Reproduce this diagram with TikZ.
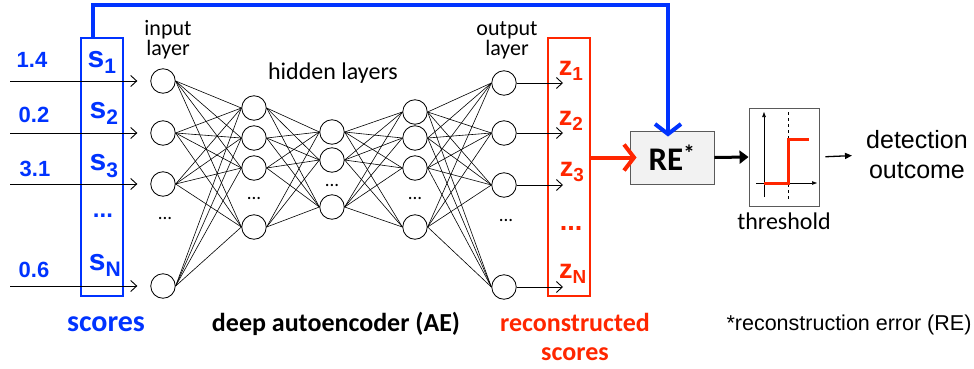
\documentclass[tikz,border=0pt]{standalone}
\usepackage{fontspec}
\setmainfont{Carlito}
\newfontfamily\arialfont{Liberation Sans}
\usetikzlibrary{arrows.meta}
\definecolor{sblue}{RGB}{0,51,255}
\definecolor{zred}{RGB}{255,38,0}
\definecolor{regrey}{RGB}{242,242,242}
\definecolor{hgrey}{RGB}{90,90,90}
\tikzset{
  neuron/.style={circle,draw,inner sep=0pt,minimum size=24.5pt,line width=0.8pt},
  syn/.style={line width=0.6pt},
  feed/.style={line width=0.9pt,-{Straight Barb[length=6pt,width=11pt]}},
  lbl/.style={align=center,inner sep=0pt,font=\fontsize{22}{20}\selectfont},
  boldlbl/.style={align=center,inner sep=0pt,font=\fontsize{26}{29}\selectfont\bfseries},
  arlbl/.style={align=center,inner sep=0pt,font=\arialfont\fontsize{25}{30}\selectfont},
  num/.style={inner sep=0pt,text=sblue,font=\arialfont\fontsize{22}{22}\selectfont\bfseries},
  score/.style={inner sep=0pt,text=sblue,font=\arialfont\fontsize{30}{30}\selectfont\bfseries},
  zscore/.style={inner sep=0pt,text=zred,font=\arialfont\fontsize{27}{27}\selectfont\bfseries},
  vecbox/.style={draw,line width=2pt,minimum width=42pt,minimum height=258pt,inner sep=0pt},
  gap/.style={inner sep=0pt,font=\fontsize{19}{19}\selectfont},
}

\begin{document}
\begin{tikzpicture}[x=1pt,y=-1pt]
\useasboundingbox (0,0) rectangle (974,369);
% input layer
\node[neuron] (in1) at (163,81) {};
\node[neuron] (in2) at (163,133) {};
\node[neuron] (in3) at (163,184) {};
\node[neuron] (in4) at (163,286) {};
\node[gap] (indots) at (165,218) {...};
% hidden layers
\node[neuron] (ha1) at (254,108) {};
\node[neuron] (ha2) at (254,138) {};
\node[neuron] (ha3) at (254,168) {};
\node[neuron] (ha4) at (254,227) {};
\node[gap] (hadots) at (254,198) {...};
\node[neuron] (hb1) at (332,132) {};
\node[neuron] (hb2) at (332,160) {};
\node[neuron] (hb3) at (332,207) {};
\node[gap] (hbdots) at (332,185) {...};
\node[neuron] (hc1) at (415,112) {};
\node[neuron] (hc2) at (415,138) {};
\node[neuron] (hc3) at (415,168) {};
\node[neuron] (hc4) at (415,227) {};
\node[gap] (hcdots) at (415,198) {...};
% output layer
\node[neuron] (out1) at (504,83) {};
\node[neuron] (out2) at (504,133) {};
\node[neuron] (out3) at (504,185) {};
\node[neuron] (out4) at (504,287) {};
\node[gap] (outdots) at (506,220) {...};

\foreach \i in {1,...,4}
  \foreach \j in {1,...,4}
    \draw[syn] (in\i.east) -- (ha\j.west);
\foreach \i in {1,...,4}
  \foreach \j in {1,...,3}
    \draw[syn] (ha\i.east) -- (hb\j.west);
\foreach \i in {1,...,3}
  \foreach \j in {1,...,4}
    \draw[syn] (hb\i.east) -- (hc\j.west);
\foreach \i in {1,...,4}
  \foreach \j in {1,...,4}
    \draw[syn] (hc\i.east) -- (out\j.west);

% scores
\node[vecbox,draw=sblue] (scores) at (102,167) {};
\node[score] (s1) at (102,62) {s\textsubscript{1}};
\node[score] (s2) at (104,113) {s\textsubscript{2}};
\node[score] (s3) at (104,166) {s\textsubscript{3}};
\node[score,font=\arialfont\fontsize{24}{24}\selectfont\bfseries] (sdots) at (103,216) {...};
\node[score] (sN) at (105,265) {s\textsubscript{N}};
\node[num] (v1) at (32,60) {1.4};
\node[num] (v2) at (34,115) {0.2};
\node[num] (v3) at (35,169) {3.1};
\node[num] (v4) at (34,270) {0.6};
\foreach \k/\y in {1/81,2/133,3/184,4/286} {
  \coordinate (src\k) at (10,\y);
  \draw[feed,shorten >=13pt] (src\k) -- (in\k);
}

% reconstructed scores
\node[vecbox,draw=zred] (zbox) at (569,167) {};
\node[zscore] (z1) at (571,71) {z\textsubscript{1}};
\node[zscore] (z2) at (571,121) {z\textsubscript{2}};
\node[zscore] (z3) at (572,172) {z\textsubscript{3}};
\node[zscore] (zdots) at (571,228) {...};
\node[zscore] (zN) at (573,274) {z\textsubscript{N}};
\foreach \k/\y in {1/83,2/133,3/185,4/287} {
  \coordinate (dst\k) at (563,\y);
  \draw[feed] (out\k) -- (dst\k);
}

% reconstruction error
\node[draw=hgrey,fill=regrey,line width=0.9pt,minimum width=84pt,minimum height=53pt,
  font=\fontsize{33}{33}\selectfont\bfseries] (re) at (672,157.5) {RE\textsuperscript{*}};
\draw[zred,line width=4pt,shorten >=-7pt,-{Straight Barb[length=10pt,width=26pt]}]
  (zbox.east |- re.west) -- (re.west);
\coordinate (fbtop) at (300,5);
\draw[sblue,line width=4pt,shorten >=-6pt,-{Straight Barb[length=10pt,width=26pt]}]
  ([xshift=13pt]scores.north west) |- (fbtop) -| ([xshift=-4pt]re.north);

% threshold
\node[draw=hgrey,line width=0.9pt,minimum width=70pt,minimum height=98pt] (thr) at (784,157) {};
\draw[line width=0.6pt,-{Triangle[length=5pt,width=3.5pt]}] (764,197) -- (764,112);
\draw[line width=0.6pt,-{Triangle[length=5pt,width=3.5pt]}] (756,183) -- (817,183);
\draw[line width=0.7pt,dashed] (788,112) -- (788,200);
\draw[zred,line width=3pt] (764,183) -- (788,183) -- (788,139) -- (809,139);
\node[lbl,font=\fontsize{24}{24}\selectfont] (thrlbl) at (784,221) {threshold};
\draw[line width=3pt,-{Triangle[length=9pt,width=13pt]}] (re.east) -- (thr.west);

\node[arlbl,anchor=west] (det) at (866,155) {detection\\outcome};
\draw[line width=1.3pt,shorten <=6pt,shorten >=14pt,-{Triangle[length=7pt,width=6pt]}]
  (thr.east) -- (det.west);

% captions
\node[lbl] (inlbl) at (168,40) {input\\layer};
\node[lbl,font=\fontsize{24}{24}\selectfont] (hidlbl) at (333,73) {hidden layers};
\node[lbl] (outlbl) at (507,40) {output\\layer};
\node[boldlbl,text=sblue,font=\fontsize{30}{30}\selectfont\bfseries] (scorelbl) at (106,324) {scores};
\node[boldlbl] (aelbl) at (336,324) {deep autoencoder (AE)};
\node[boldlbl,text=zred] (reclbl) at (575,337) {reconstructed\\scores};
\node[arlbl,font=\arialfont\fontsize{21.5}{22}\selectfont] (note) at (849,325) {*reconstruction error (RE)};
\end{tikzpicture}
\end{document}
